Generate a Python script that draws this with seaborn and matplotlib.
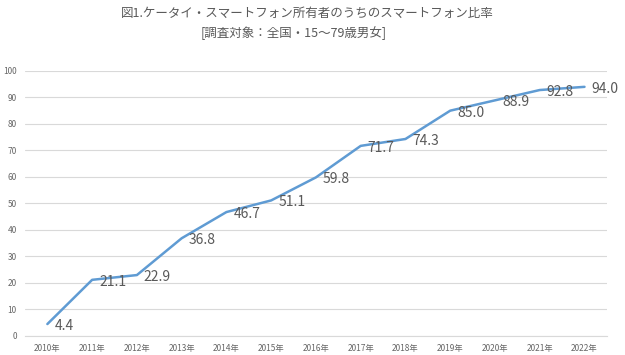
import matplotlib
matplotlib.use("Agg")
import matplotlib.pyplot as plt
import seaborn as sns
import pandas as pd

# data
years = ["2010年", "2011年", "2012年", "2013年", "2014年", "2015年", "2016年",
         "2017年", "2018年", "2019年", "2020年", "2021年", "2022年"]
ratio = [4.4, 21.1, 22.9, 36.8, 46.7, 51.1, 59.8, 71.7, 74.3, 85.0, 88.9, 92.8, 94.0]
y_ticks = [0, 10, 20, 30, 40, 50, 60, 70, 80, 90, 100]

title_1 = "図1.ケータイ・スマートフォン所有者のうちのスマートフォン比率"
title_2 = "[調査対象：全国・15～79歳男女]"

sns.set_theme(style="white")
plt.rcParams['font.family'] = ['Noto Sans CJK JP', 'DejaVu Sans']

df = pd.DataFrame({"year": years, "ratio": ratio})
df["pos"] = range(len(df))

fig = plt.figure(figsize=(6.25, 3.55), dpi=100)
ax = fig.add_axes([0.04, 0.0544, 0.931, 0.7457])

sns.lineplot(data=df, x="pos", y="ratio", ax=ax, color="#5f9bd3", linewidth=1.8)

# data labels, right of each point
for _, r in df.iterrows():
    ax.annotate(f"{r['ratio']:.1f}", (r["pos"], r["ratio"]),
                xytext=(5, -1.5), textcoords="offset points",
                ha="left", va="center", fontsize=10, color="#595959")

ax.set_xlim(-0.5, 12.5)
ax.set_ylim(0, 100)
ax.set_xticks(df["pos"])
ax.set_xticklabels(years)
ax.set_yticks(y_ticks)
ax.tick_params(axis="both", labelsize=6, colors="#666666", length=0)
ax.tick_params(axis="x", pad=6)
ax.tick_params(axis="y", pad=6)
ax.set_xlabel("")
ax.set_ylabel("")
ax.grid(axis="y", color="#d9d9d9", linewidth=0.8)
for s in ["top", "right", "left"]:
    ax.spines[s].set_visible(False)
ax.spines["bottom"].set_color("#d9d9d9")
ax.spines["bottom"].set_linewidth(0.8)

fig.text(307 / 625, 1 - 13 / 355, title_1, ha="center", va="center",
         fontsize=9, color="#595959")
fig.text(294 / 625, 1 - 33 / 355, title_2, ha="center", va="center",
         fontsize=9, color="#595959")

fig.savefig("out.png", dpi=100)
